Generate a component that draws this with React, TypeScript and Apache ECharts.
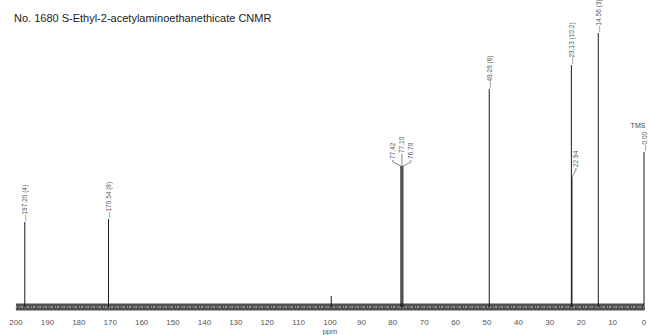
import React, { useEffect, useRef } from "react";
import * as echarts from "echarts";

const TITLE = "No. 1680 S-Ethyl-2-acetylaminoethanethicate CNMR";

// chemical shifts (ppm), peak heights (arbitrary units), labels
const peakPpm = [197.2, 170.54, 99.6, 77.42, 77.1, 76.78, 49.28, 23.13, 22.94, 14.56, 0.0];
const peakHeight = [85, 88, 11, 141, 141, 141, 218, 242, 130, 274, 155];
const peakLabels = ["197.20 (4)", "170.54 (8)", "", "77.42", "77.10", "76.78", "49.28 (6)", "23.13 (10.2)", "22.94", "14.56 (3)", "0.00"];
const peakNotes = ["", "", "", "", "", "", "", "", "", "", "TMS"];

const X_MIN = 0;
const X_MAX = 200;
const X_STEP = 10;

// label connector offsets in pixels (layout only)
const LABEL_LAYOUT: Record<number, { dx: number; dy: number }> = {
  3: { dx: -8, dy: -4 },
  4: { dx: 0, dy: -10 },
  5: { dx: 8, dy: -4 },
  8: { dx: 4, dy: -7 },
};

const FONT_FAMILY = '"Liberation Sans", Arial, sans-serif';
const LABEL_FONT = '6.5px ' + FONT_FAMILY;

export default function App() {
  const ref = useRef<HTMLDivElement>(null);

  useEffect(() => {
    if (!ref.current) return;
    const chart = echarts.init(ref.current, undefined, { renderer: "svg" });

    const peakData = peakPpm.map((p, i) => [p, peakHeight[i], i]);

    chart.setOption({
      animation: false,
      backgroundColor: "#ffffff",
      title: {
        text: TITLE,
        left: 9,
        top: 7,
        textStyle: {
          fontSize: 11,
          fontWeight: "normal",
          color: "#222",
          fontFamily: FONT_FAMILY,
        },
      },
      grid: { left: 16, right: 6, top: 5, bottom: 22, outerBoundsMode: "none", containLabel: false },
      xAxis: {
        type: "value",
        inverse: true,
        min: X_MIN,
        max: X_MAX,
        interval: X_STEP,
        name: "ppm",
        nameLocation: "middle",
        nameGap: 14,
        nameMoveOverlap: false,
        nameTextStyle: { fontSize: 7.5, color: "#555", fontFamily: FONT_FAMILY },
        axisLine: { show: true, lineStyle: { color: "#555", width: 1 } },
        axisTick: { show: true, length: 3, lineStyle: { color: "#555" } },
        minorTick: { show: true, splitNumber: 5, length: 2, lineStyle: { color: "#777" } },
        axisLabel: {
          fontSize: 8,
          color: "#555",
          margin: 5,
          fontFamily: FONT_FAMILY,
        },
        splitLine: { show: false },
      },
      yAxis: {
        type: "value",
        min: -6,
        max: 302,
        show: false,
        splitLine: { show: false },
      },
      series: [
        {
          type: "line",
          data: [[X_MIN, 0], [X_MAX, 0]],
          symbol: "none",
          silent: true,
          lineStyle: { color: "#505050", width: 7 },
          z: 1,
        },
        {
          type: "line",
          data: [[X_MIN, 0], [X_MAX, 0]],
          symbol: "none",
          silent: true,
          lineStyle: { color: "#8c8c8c", width: 2, type: [1, 2, 2, 1] },
          z: 1,
        },
        {
          type: "custom",
          z: 3,
          silent: true,
          data: peakData,
          renderItem: (params: any, api: any) => {
            const i = params.dataIndex;
            const base = api.coord([api.value(0), 0]);
            const top = api.coord([api.value(0), api.value(1)]);
            const children: any[] = [
              {
                type: "line",
                shape: { x1: base[0], y1: base[1], x2: top[0], y2: top[1] },
                style: { stroke: "#1a1a1a", lineWidth: 1 },
              },
            ];
            const text = peakLabels[i];
            if (text) {
              const lay = LABEL_LAYOUT[i];
              if (lay) {
                const lx = top[0] + lay.dx;
                const ly = top[1] + lay.dy;
                children.push({
                  type: "polyline",
                  shape: { points: [[top[0], top[1]], [lx, ly], [lx, ly - 2]] },
                  style: { stroke: "#666", lineWidth: 0.8, fill: null },
                });
                children.push({
                  type: "text",
                  x: lx,
                  y: ly - 3,
                  rotation: Math.PI / 2,
                  style: { text, font: LABEL_FONT, fill: "#555", align: "left", verticalAlign: "middle" },
                });
              } else {
                children.push({
                  type: "text",
                  x: top[0],
                  y: top[1] - 1,
                  rotation: Math.PI / 2,
                  style: { text: "\u2014" + text, font: LABEL_FONT, fill: "#555", align: "left", verticalAlign: "middle" },
                });
              }
              const note = peakNotes[i];
              if (note) {
                children.push({
                  type: "text",
                  x: top[0] - 6,
                  y: top[1] - 27,
                  style: { text: note, font: "7px " + FONT_FAMILY, fill: "#444", align: "center", verticalAlign: "middle" },
                });
              }
            }
            return { type: "group", children };
          },
        },
      ],
    });

    return () => chart.dispose();
  }, []);

  return (
    <div
      ref={ref}
      style={{ position: "fixed", left: 0, top: 0, width: 650, height: 335, background: "#fff" }}
    />
  );
}
